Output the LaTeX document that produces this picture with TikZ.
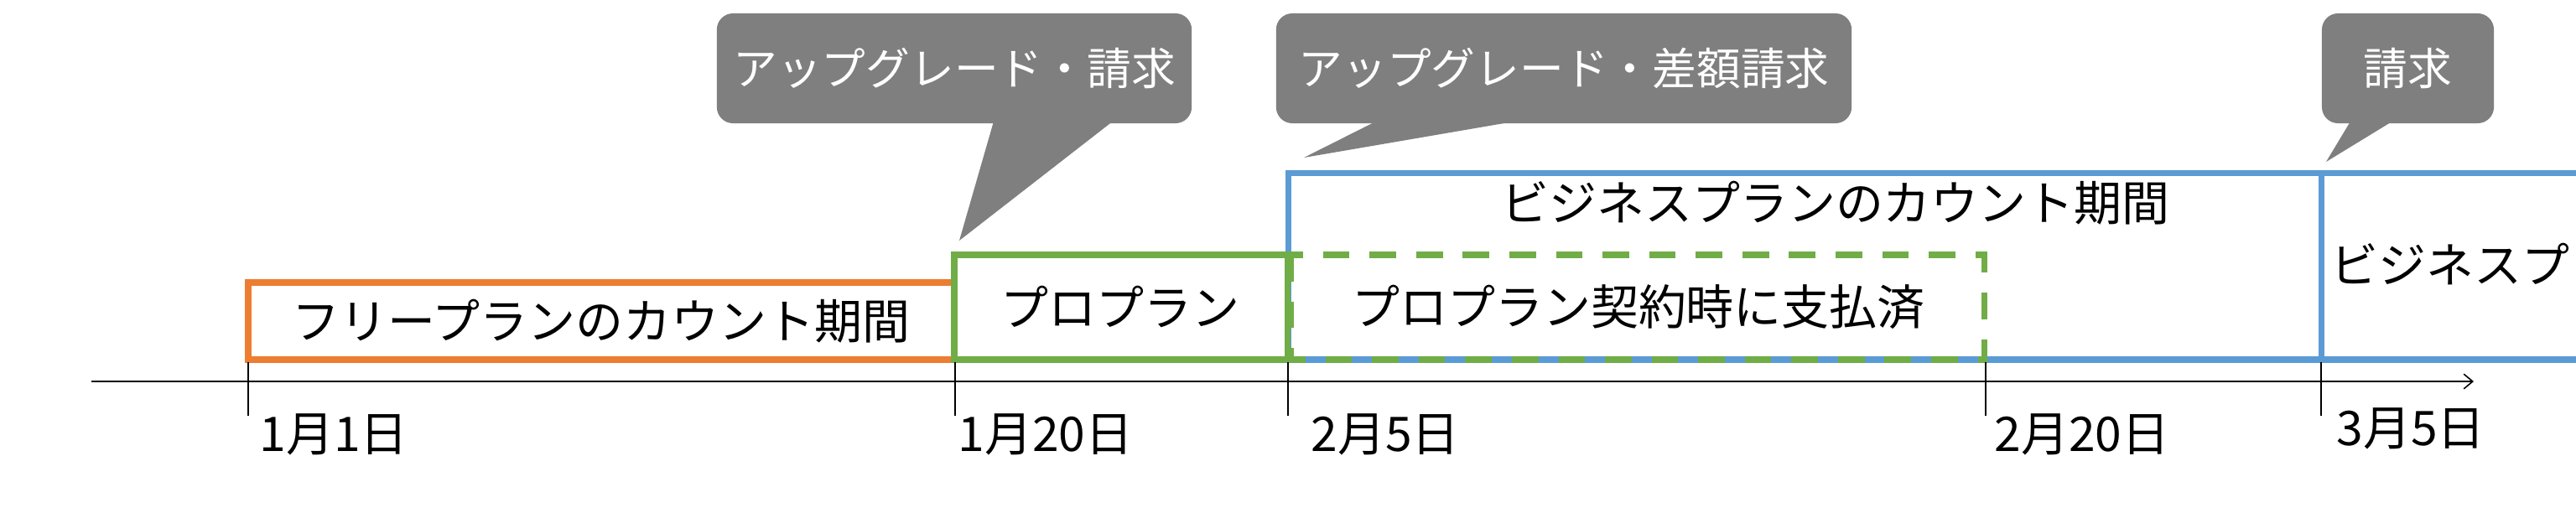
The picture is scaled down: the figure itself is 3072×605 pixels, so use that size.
\documentclass[tikz,border=0pt]{standalone}
\usepackage{fontspec}
\setmainfont{Noto Sans CJK JP}
\usepackage{tikz}
\usetikzlibrary{arrows.meta,positioning,calc}
\definecolor{freeorange}{HTML}{ED7D31}
\definecolor{progreen}{HTML}{70AD47}
\definecolor{bizblue}{HTML}{5B9BD5}
\definecolor{bubblegray}{HTML}{7F7F7F}

\begin{document}
\begin{tikzpicture}[x=0.01cm, y=-0.01cm,
    every node/.style={inner sep=0pt, font=\fontsize{16.2pt}{19pt}\selectfont},
    planline/.style={line width=2pt},
    bubble/.style={fill=bubblegray, rounded corners=5.5pt, text=white, minimum height=1.31cm, font=\fontsize{15pt}{18pt}\selectfont},
    datetick/.style={line width=0.4pt}]
    \clip (0,0) rectangle (3072,605);
    \fill[white] (0,0) rectangle (3072,605);

    \draw[planline, freeorange] (296,337) rectangle (1138,429);
    \draw[planline, bizblue] (3100,206.5) -- (1536,206.5) -- (1536,429) -- (3100,429);
    \draw[planline, bizblue] (2768,206.5) -- (2768,429);
    \draw[planline, progreen] (1138,304) rectangle (1535,429);
    \draw[planline, progreen, dash pattern=on 9pt off 6.8pt] (1539,304) rectangle (2366,429);

    \node (freeText) at (717,383) {フリープランのカウント期間};
    \node (proText) at (1336,366) {プロプラン};
    \node (bizText) at (2189,242) {ビジネスプランのカウント期間};
    \node (paidText) at (1954,366) {プロプラン契約時に支払済};
    \node[anchor=west] (bizNext) at (2779,316) {ビジネスプランのカウント期間};

    \node[bubble, minimum width=5.66cm] (upgrade) at (1138,81.5) {アップグレード・請求};
    \node[bubble, minimum width=6.86cm] (upgradeDiff) at (1865,81.5) {アップグレード・差額請求};
    \node[bubble, minimum width=2.05cm] (bill) at (2871.5,81.5) {請求};
    \coordinate (upgradeTip) at (1144,287);
    \coordinate (upgradeDiffTip) at (1555,188);
    \coordinate (billTip) at (2774,193);
    \fill[bubblegray] ($(upgrade.south)+(47,-3)$) -- (upgradeTip) -- ($(upgrade.south)+(189,-3)$) -- cycle;
    \fill[bubblegray] ($(upgradeDiff.south)+(-224,-3)$) -- (upgradeDiffTip) -- ($(upgradeDiff.south)+(-58,-3)$) -- cycle;
    \fill[bubblegray] ($(bill.south)+(-68.5,-3)$) -- (billTip) -- ($(bill.south)+(-18.5,-3)$) -- cycle;

    \coordinate (axisStart) at (109,455);
    \coordinate (axisEnd) at (2950,455);
    \draw[line width=0.45pt, -{Straight Barb[length=3pt,width=5pt]}] (axisStart) -- (axisEnd);

    \foreach \x/\lx/\ly/\d [count=\i] in {296/309/518/1月1日, 1139/1142/518/1月20日, 1536/1563/518/2月5日, 2368/2378/518/2月20日, 2768/2786/511/3月5日} {
        \draw[datetick] (\x,432) -- (\x,496);
        \node[anchor=west] (date\i) at (\lx,\ly) {\d};
    }
\end{tikzpicture}
\end{document}
